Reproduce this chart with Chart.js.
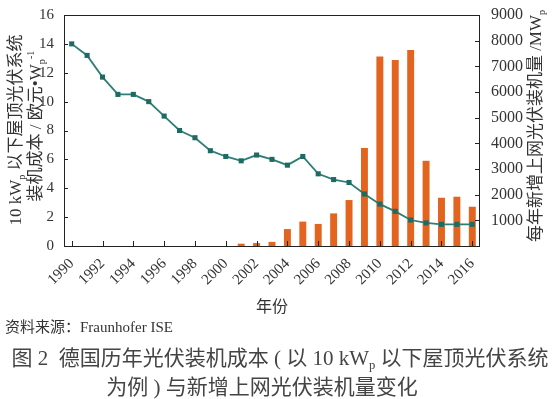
<!DOCTYPE html>
<html>
<head>
  <meta charset="utf-8">
  <title>德国历年光伏装机成本</title>
  <script src="https://cdn.jsdelivr.net/npm/chart.js"></script>
  <style>
    body { margin: 0; background: #fff; }
  </style>
</head>
<body>
  <canvas id="pvChart" width="556" height="399"></canvas>

  <script>
    var years = ['1990','1991','1992','1993','1994','1995','1996','1997','1998','1999','2000',
                 '2001','2002','2003','2004','2005','2006','2007','2008','2009','2010',
                 '2011','2012','2013','2014','2015','2016'];
    // 装机成本 欧元/Wp
    var costValues = [14.0, 13.2, 11.7, 10.5, 10.5, 10.0, 9.0, 8.0, 7.5, 6.6, 6.2,
                      5.9, 6.3, 6.0, 5.6, 6.2, 5.0, 4.6, 4.4, 3.6, 2.9,
                      2.4, 1.8, 1.6, 1.5, 1.5, 1.5];
    // 新增上网装机量 MWp
    var installValues = [null, null, null, null, null, null, null, null, null, null, null,
                         90, 115, 160, 660, 950, 860, 1270, 1790, 3820, 7380,
                         7250, 7640, 3320, 1880, 1920, 1530];
    var costTicks = [0, 2, 4, 6, 8, 10, 12, 14, 16];
    var installTicks = [1000, 2000, 3000, 4000, 5000, 6000, 7000, 8000, 9000];

    var serif = '"Liberation Serif", "Noto Sans CJK SC", serif';
    var textColor = '#333';
    var axisColor = '#222';

    // 带下标/上标的文字
    function drawRich(ctx, parts, x, y, size, align) {
      var widths = [];
      var total = 0;
      for (var i = 0; i < parts.length; i++) {
        var s = parts[i][1] ? size * 0.6 : size;
        ctx.font = s + 'px ' + serif;
        var w = ctx.measureText(parts[i][0]).width;
        widths.push(w);
        total += w;
      }
      var cx = align === 'center' ? x - total / 2 : x;
      ctx.textBaseline = 'middle';
      ctx.textAlign = 'left';
      for (var j = 0; j < parts.length; j++) {
        var p = parts[j];
        var sz = p[1] ? size * 0.6 : size;
        var dy = p[1] === 'sub' ? size * 0.3 : (p[1] === 'sup' ? -size * 0.35 : 0);
        ctx.font = sz + 'px ' + serif;
        ctx.fillText(p[0], cx, y + dy);
        cx += widths[j];
      }
    }

    var framePlugin = {
      id: 'frame',
      afterDraw: function(chart) {
        var ctx = chart.ctx;
        var a = chart.chartArea;
        ctx.save();
        ctx.strokeStyle = axisColor;
        ctx.lineWidth = 1;
        ctx.strokeRect(a.left + 0.5, a.top + 0.5, a.right - a.left - 1, a.bottom - a.top);

        // 内向刻度
        ctx.beginPath();
        var xs = chart.scales.x;
        for (var i = 0; i < years.length; i += 2) {
          var px = Math.round(xs.getPixelForValue(i)) + 0.5;
          ctx.moveTo(px, a.bottom);
          ctx.lineTo(px, a.bottom - 5);
        }
        var yl = chart.scales.y;
        costTicks.forEach(function(v) {
          var py = Math.round(yl.getPixelForValue(v)) + 0.5;
          ctx.moveTo(a.left, py);
          ctx.lineTo(a.left + 4, py);
        });
        var yr = chart.scales.y1;
        installTicks.forEach(function(v) {
          var py = Math.round(yr.getPixelForValue(v)) + 0.5;
          ctx.moveTo(a.right, py);
          ctx.lineTo(a.right - 5, py);
        });
        ctx.stroke();

        ctx.fillStyle = textColor;
        // 左轴标题
        ctx.save();
        ctx.translate(17, 130);
        ctx.rotate(-Math.PI / 2);
        drawRich(ctx, [['10 kW'], ['p', 'sub'], [' 以下屋顶光伏系统']], 0, 0, 17, 'center');
        ctx.restore();
        ctx.save();
        ctx.translate(37, 126);
        ctx.rotate(-Math.PI / 2);
        drawRich(ctx, [['装机成本 / 欧元•W'], ['p', 'sub'], ['-1', 'sup']], 0, 0, 17, 'center');
        ctx.restore();
        // 右轴标题
        ctx.save();
        ctx.translate(537, 126);
        ctx.rotate(-Math.PI / 2);
        drawRich(ctx, [['每年新增上网光伏装机量 /MW'], ['p', 'sub']], 0, 0, 17, 'center');
        ctx.restore();

        // 下方文字
        drawRich(ctx, [['年份']], 272, 308, 16, 'center');
        drawRich(ctx, [['资料来源：Fraunhofer ISE']], 5, 328, 15, 'left');
        ctx.fillStyle = '#444';
        drawRich(ctx, [['图 2  德国历年光伏装机成本 ( 以 10 kW'], ['p', 'sub'], [' 以下屋顶光伏系统']], 280, 359, 21, 'center');
        drawRich(ctx, [['为例 ) 与新增上网光伏装机量变化']], 262, 388, 21, 'center');
        ctx.restore();
      }
    };

    new Chart(document.getElementById('pvChart'), {
      data: {
        labels: years,
        datasets: [{
          type: 'line',
          label: '装机成本',
          data: costValues,
          yAxisID: 'y',
          borderColor: '#2e7e78',
          backgroundColor: '#1f6b63',
          borderWidth: 1.8,
          pointStyle: 'rect',
          pointRadius: 3.6,
          pointBorderWidth: 0,
          tension: 0,
          order: 0
        }, {
          type: 'bar',
          label: '新增装机量',
          data: installValues,
          yAxisID: 'y1',
          backgroundColor: '#e2641f',
          barPercentage: 0.5,
          categoryPercentage: 0.9,
          order: 1
        }]
      },
      options: {
        responsive: false,
        animation: false,
        layout: { padding: { top: 15, bottom: 108, left: 0, right: 0 } },
        plugins: {
          legend: { display: false },
          tooltip: { enabled: false }
        },
        scales: {
          x: {
            grid: { display: false },
            border: { display: false },
            afterFit: function(s) { s.height = 45; },
            ticks: {
              autoSkip: false,
              minRotation: 45,
              maxRotation: 45,
              padding: 1,
              color: textColor,
              font: { family: serif, size: 15 },
              callback: function(v, i) { return i % 2 === 0 ? this.getLabelForValue(v) : ''; }
            }
          },
          y: {
            position: 'left',
            min: 0,
            max: 16,
            grid: { display: false },
            border: { display: false },
            afterFit: function(s) { s.width = 64; },
            ticks: {
              stepSize: 2,
              padding: 2,
              color: textColor,
              font: { family: serif, size: 15 }
            }
          },
          y1: {
            position: 'right',
            min: 0,
            max: 9000,
            grid: { display: false },
            border: { display: false },
            afterFit: function(s) { s.width = 76; },
            ticks: {
              stepSize: 1000,
              padding: 3,
              color: textColor,
              font: { family: serif, size: 16 },
              callback: function(v) { return v === 0 ? '' : v; }
            }
          }
        }
      },
      plugins: [framePlugin]
    });
  </script>
</body>
</html>
